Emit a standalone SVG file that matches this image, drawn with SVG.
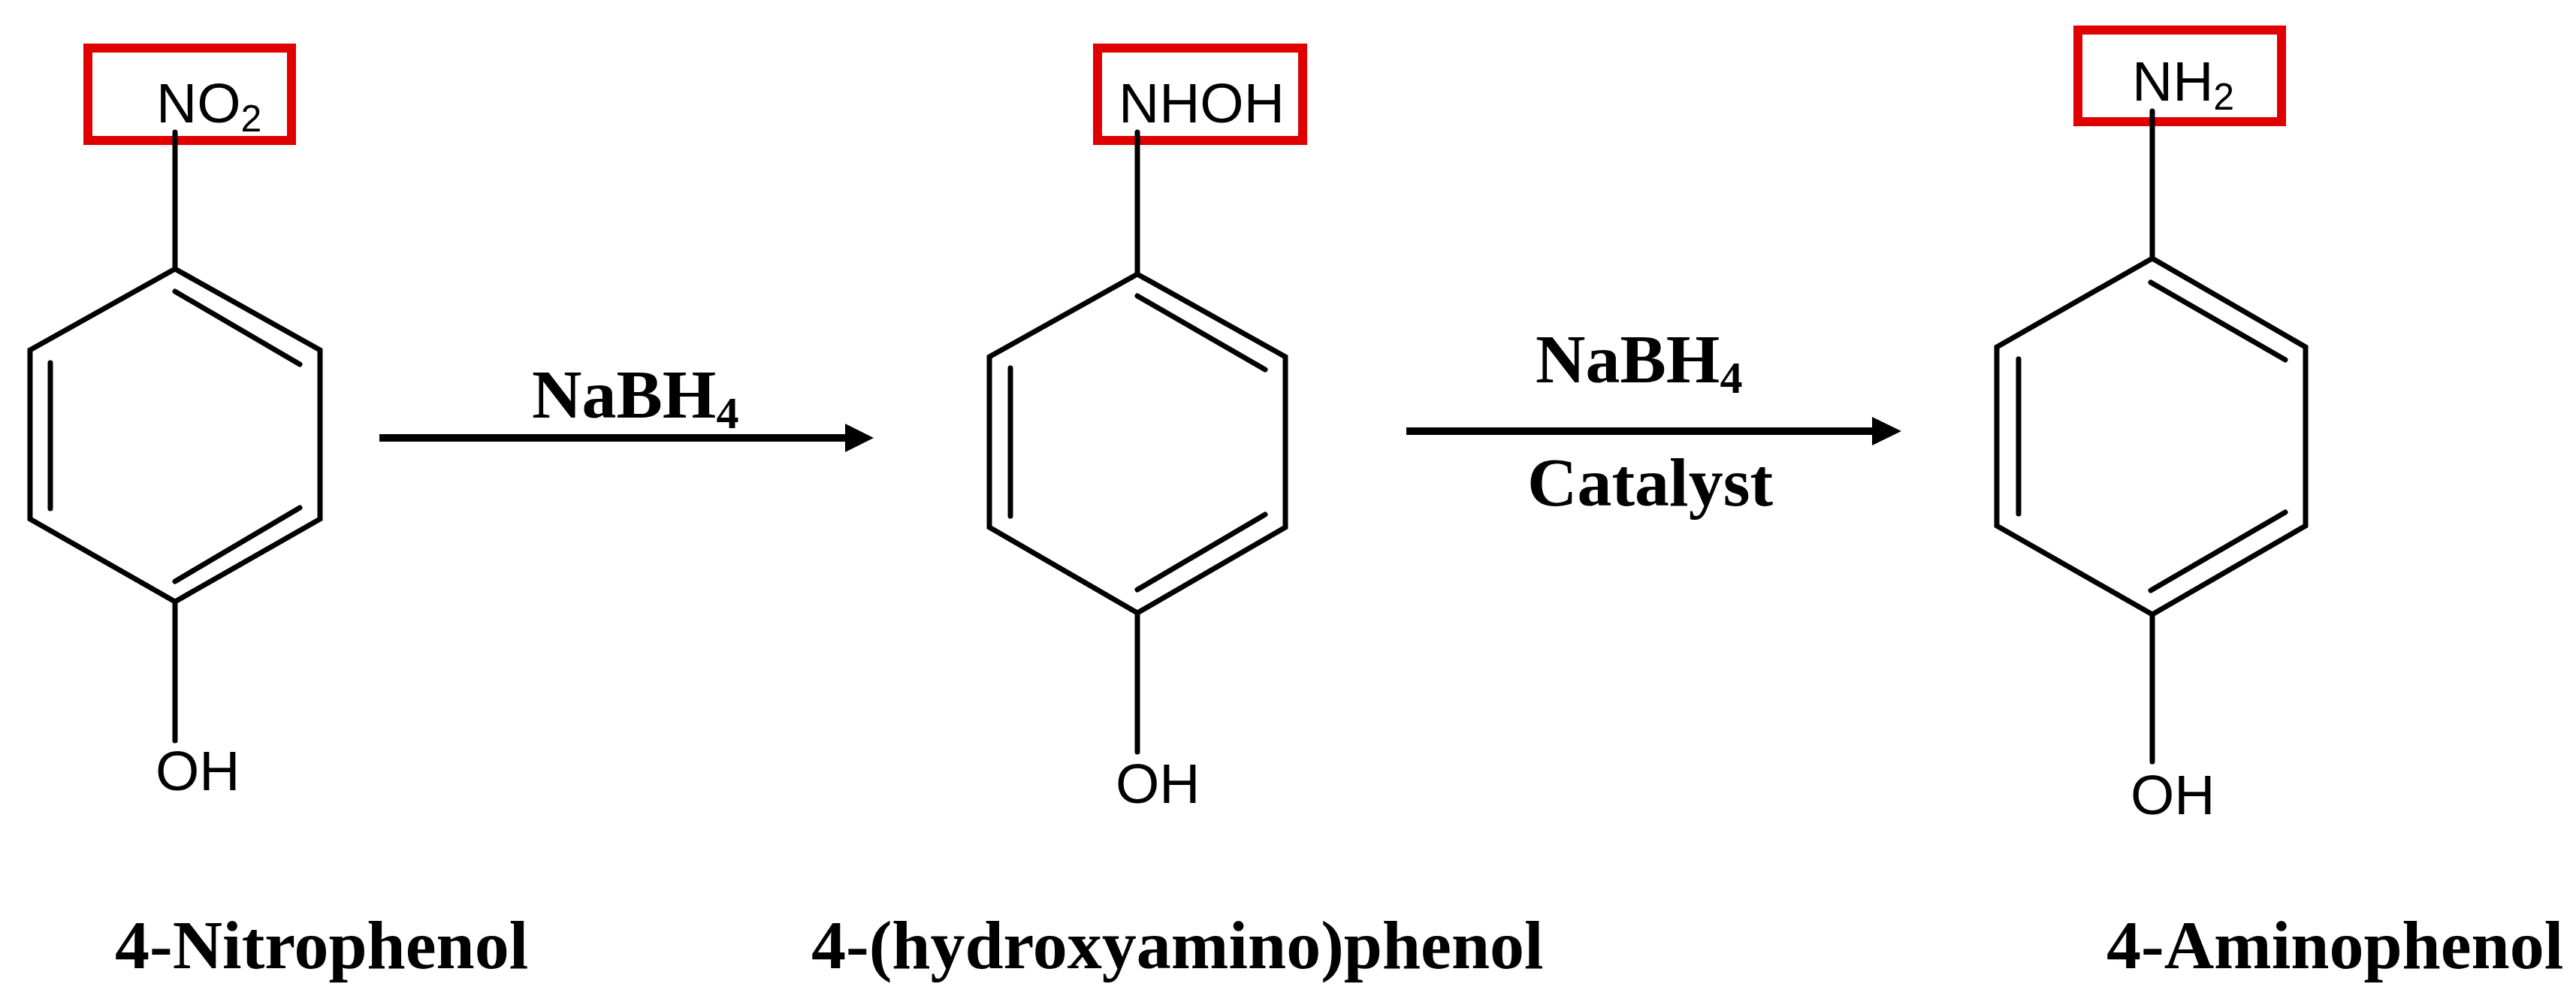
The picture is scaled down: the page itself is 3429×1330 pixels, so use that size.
<svg xmlns="http://www.w3.org/2000/svg" width="3429" height="1330" viewBox="0 0 3429 1330">
<style>
.b{stroke:#000;stroke-width:7;fill:none;stroke-linecap:round;stroke-linejoin:miter}
.box{stroke:#e00000;stroke-width:12;fill:none}
.atom{font-family:"Liberation Sans",Arial,sans-serif;font-size:75px;fill:#000}
.lbl{font-family:"Liberation Serif","Times New Roman",serif;font-weight:bold;font-size:92px;fill:#000}
.arr{stroke:#000;stroke-width:10;fill:none}
</style>
<g id="nitrophenol">
<rect class="box" x="117" y="64" width="271" height="123"/>
<text class="atom" x="208" y="163">NO<tspan font-size="50" dy="12">2</tspan></text>
<path class="b" d="M233 176V358 M233 358L426 466V691L233 801L40 691V466Z M233 801V986 M233 388L399 485 M67 483V677 M233 774L399 676"/>
<text class="atom" x="207" y="1052">OH</text>
<text class="lbl" x="153" y="1289">4-Nitrophenol</text>
</g>
<g id="hydroxyaminophenol">
<rect class="box" x="1461" y="64" width="273" height="123"/>
<text class="atom" x="1489" y="163">NHOH</text>
<path class="b" d="M1514 176V365 M1514 365L1711 475V702L1514 816L1317 702V475Z M1514 816V1001 M1514 394L1684 492 M1345 490V687 M1514 785L1684 685"/>
<text class="atom" x="1485" y="1069">OH</text>
<text class="lbl" x="1080" y="1289">4-(hydroxyamino)phenol</text>
</g>
<g id="aminophenol">
<rect class="box" x="2766" y="40" width="271" height="122"/>
<text class="atom" x="2838" y="134">NH<tspan font-size="50" dy="12">2</tspan></text>
<path class="b" d="M2865 148V344 M2865 344L3069 462V700L2865 818L2658 700V462Z M2865 818V1014 M2863 376L3042 479 M2687 478V684 M2863 786L3042 682"/>
<text class="atom" x="2836" y="1084">OH</text>
<text class="lbl" x="2804" y="1289">4-Aminophenol</text>
</g>
<g id="connectors">
<line class="arr" x1="505" y1="583" x2="1130" y2="583"/>
<polygon points="1125,564 1163,583 1125,602"/>
<text class="lbl" x="708" y="556">NaBH<tspan font-size="60" dy="14">4</tspan></text>
<line class="arr" x1="1872" y1="574" x2="2497" y2="574"/>
<polygon points="2492,555 2531,574 2492,593"/>
<text class="lbl" x="2044" y="509">NaBH<tspan font-size="60" dy="14">4</tspan></text>
<text class="lbl" x="2033" y="673">Catalyst</text>
</g>
</svg>
